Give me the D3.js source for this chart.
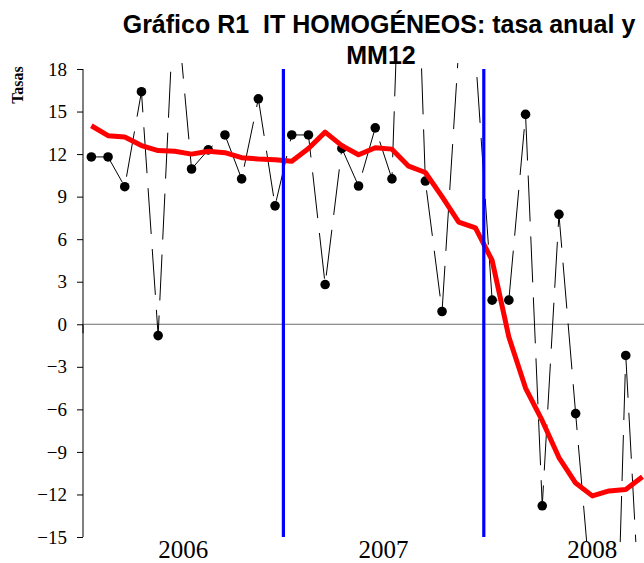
<!DOCTYPE html>
<html>
<head>
<meta charset="utf-8">
<script src="https://cdn.jsdelivr.net/npm/d3@7"></script>
<style>
  body { margin: 0; background: #fff; }
  svg { display: block; }
</style>
</head>
<body>
<div id="chart"></div>
<script>
// meses de ene-2006 a dic-2008 (categorias del eje)
var months = [];
[2006, 2007, 2008].forEach(function(y) {
    for (var m = 1; m <= 12; m++) months.push(y + "-" + (m < 10 ? "0" + m : m));
});

// tasa anual (puntos negros) ene-2006 .. oct-2008
var tasaAnual = [11.8, 11.8, 9.7, 16.4, -0.8, 24.0, 10.95, 12.3, 13.35, 10.25, 15.9, 8.35,
                 13.35, 13.35, 2.8, 12.4, 9.75, 13.85, 10.25, 45.0, 10.1, 0.9, 19.5, 19.0,
                 1.7, 1.7, 14.8, -12.8, 7.75, -6.3, -20.0, -42.0, -2.2, -24.0];

// MM12 (linea roja)
var mm12 = [14.0, 13.3, 13.2, 12.6, 12.25, 12.2, 12.0, 12.2, 12.1, 11.75, 11.65, 11.6,
            11.5, 12.4, 13.55, 12.6, 11.95, 12.45, 12.35, 11.15, 10.7, 9.0, 7.2, 6.8,
            4.5, -0.9, -4.5, -6.8, -9.4, -11.2, -12.1, -11.75, -11.65, -10.75];

var yTicks = [18, 15, 12, 9, 6, 3, 0, -3, -6, -9, -12, -15];
var years = ["2006", "2007", "2008"];
// posicion de la etiqueta de cada año, en indice de mes
var yearLabelAt = [5.5, 17.5, 30];
// separadores verticales azules (entre dic y ene)
var separators = ["2007-01", "2008-01"];

const width = 644;
const height = 563;

var svg = d3.select("#chart").append("svg")
    .attr("width", width)
    .attr("height", height);

var x = d3.scaleBand()
    .domain(months)
    .range([83, 83 + 36 * 16.7]);

var y = d3.scaleLinear()
    .domain([-15, 18])
    .range([537, 69]);

var xc = function(i) { return x(months[i]) + x.bandwidth() / 2; };

svg.append("defs").append("clipPath").attr("id", "plot")
    .append("rect")
    .attr("x", 83).attr("y", 63)
    .attr("width", width - 83).attr("height", 479);

// titulo
var title = svg.append("text")
    .attr("text-anchor", "middle")
    .style("font-family", "'Liberation Sans', Arial, sans-serif")
    .style("font-weight", "bold")
    .style("font-size", "25px")
    .style("white-space", "pre")
    .attr("fill", "#000");
title.append("tspan").attr("x", 379).attr("y", 33).text("Gráfico R1  IT HOMOGÉNEOS: tasa anual y");
title.append("tspan").attr("x", 381).attr("y", 64).text("MM12");

// eje y
var yAxis = svg.append("g")
    .attr("transform", "translate(83,0)")
    .call(d3.axisLeft(y).tickValues(yTicks).tickSize(6).tickPadding(10));
yAxis.select(".domain").attr("stroke", "#000").attr("d", "M0," + y(18) + "V" + y(-15));
yAxis.selectAll(".tick line").attr("stroke", "#000");
yAxis.selectAll(".tick text")
    .style("font-family", "'Liberation Serif', 'Times New Roman', serif")
    .style("font-size", "19px")
    .attr("fill", "#000");

svg.append("text")
    .attr("transform", "translate(23,85) rotate(-90)")
    .attr("text-anchor", "middle")
    .style("font-family", "'Liberation Serif', 'Times New Roman', serif")
    .style("font-weight", "bold")
    .style("font-size", "16px")
    .text("Tasas");

// linea del cero con marcas entre años
svg.append("line")
    .attr("x1", 83).attr("x2", width)
    .attr("y1", y(0)).attr("y2", y(0))
    .attr("stroke", "#6e6e6e").attr("stroke-width", 1);

svg.selectAll(".ytick")
    .data(["2006-01", "2007-01", "2008-01"])
    .enter().append("line")
    .attr("x1", function(d) { return x(d); })
    .attr("x2", function(d) { return x(d); })
    .attr("y1", y(0)).attr("y2", y(0) + 9)
    .attr("stroke", "#000");

// etiquetas de años
svg.selectAll(".year")
    .data(years)
    .enter().append("text")
    .attr("x", function(d, i) { return x(months[0]) + x.bandwidth() * (yearLabelAt[i] + 0.5); })
    .attr("y", 558)
    .attr("text-anchor", "middle")
    .style("font-family", "'Liberation Serif', 'Times New Roman', serif")
    .style("font-size", "25px")
    .text(function(d) { return d; });

var plot = svg.append("g").attr("clip-path", "url(#plot)");

// tasa anual: linea discontinua + puntos
var lineAnual = d3.line()
    .x(function(d, i) { return xc(i); })
    .y(function(d) { return y(d); });

plot.append("path")
    .datum(tasaAnual)
    .attr("d", lineAnual)
    .attr("fill", "none")
    .attr("stroke", "#000")
    .attr("stroke-width", 1)
    .attr("stroke-dasharray", "46,15");

plot.selectAll(".dot")
    .data(tasaAnual)
    .enter().append("circle")
    .attr("cx", function(d, i) { return xc(i); })
    .attr("cy", function(d) { return y(d); })
    .attr("r", 4.8)
    .attr("fill", "#000");

// separadores azules
svg.selectAll(".sep")
    .data(separators)
    .enter().append("line")
    .attr("x1", function(d) { return x(d); })
    .attr("x2", function(d) { return x(d); })
    .attr("y1", y(18)).attr("y2", y(-15))
    .attr("stroke", "#0000ff")
    .attr("stroke-width", 3.2);

// MM12
plot.append("path")
    .datum(mm12)
    .attr("d", lineAnual)
    .attr("fill", "none")
    .attr("stroke", "#ff0000")
    .attr("stroke-width", 5)
    .attr("stroke-linejoin", "round");
</script>
</body>
</html>
